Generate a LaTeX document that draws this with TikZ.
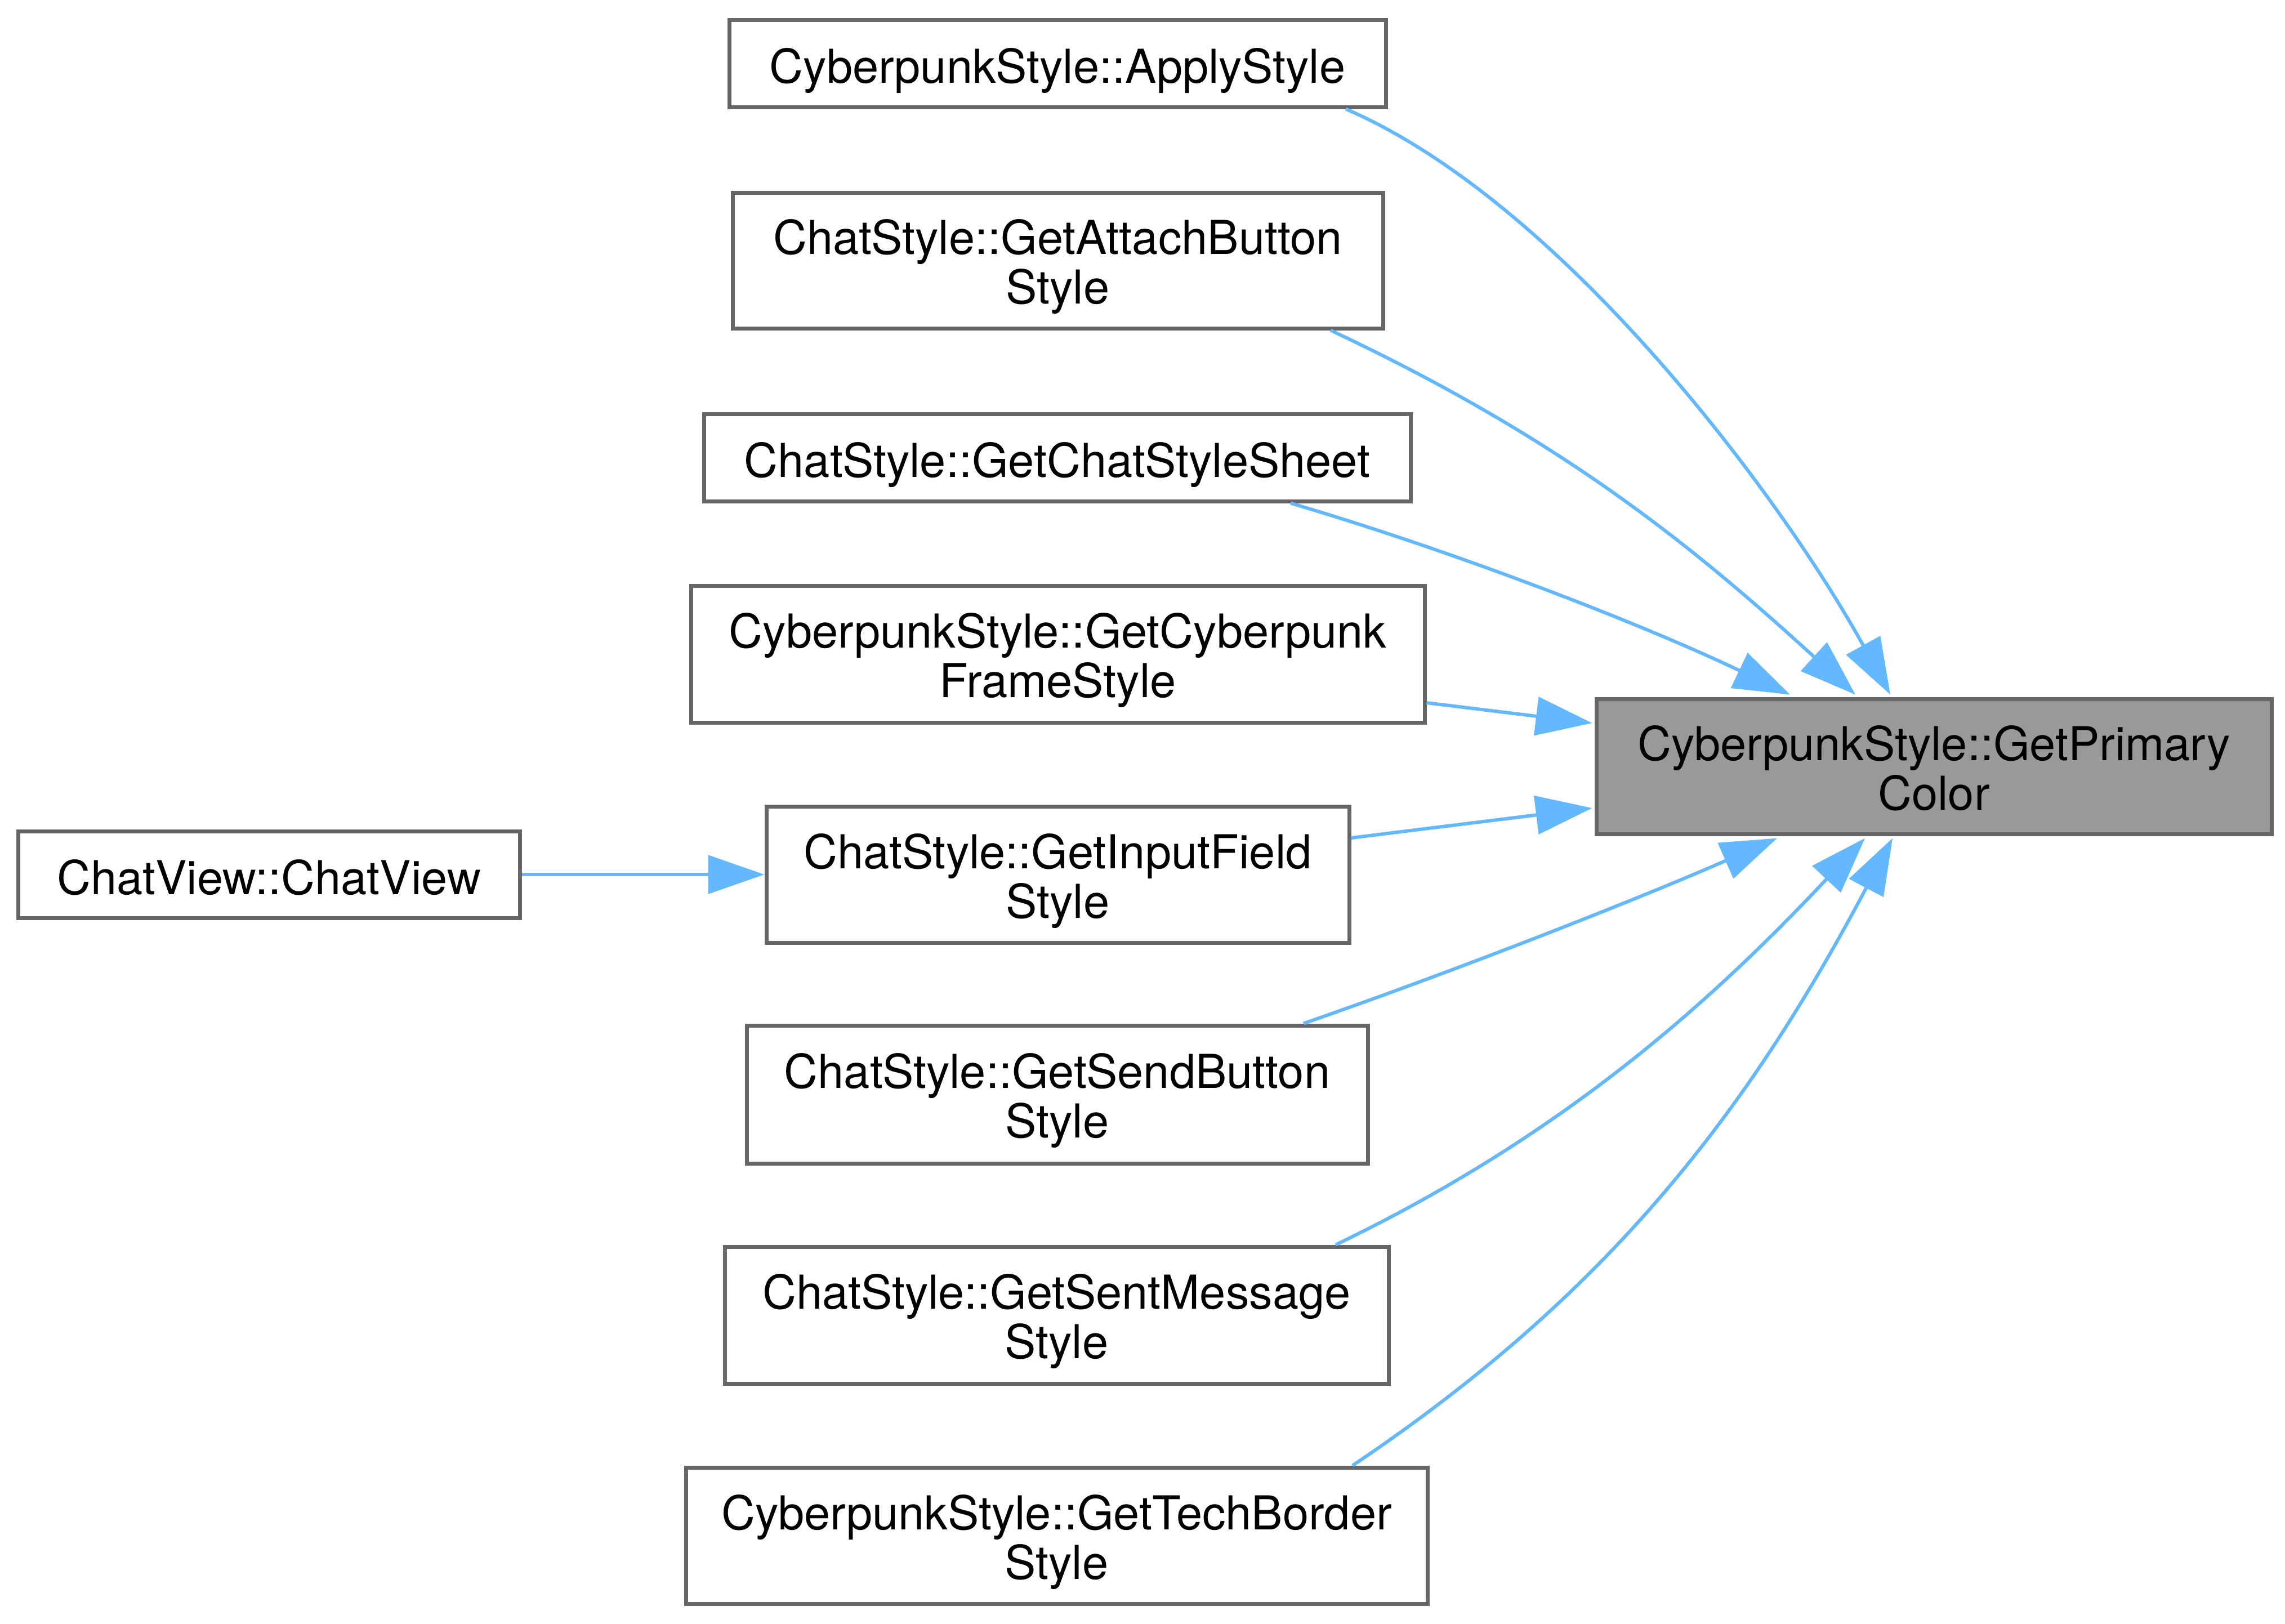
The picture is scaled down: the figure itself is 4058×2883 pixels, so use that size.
\documentclass[tikz,border=0pt]{standalone}
\usepackage{fontspec}
\setmainfont{TeX Gyre Heros}
\usetikzlibrary{arrows.meta,calc}
\definecolor{edgecol}{HTML}{63B8FF}
\definecolor{boxborder}{HTML}{666666}
\definecolor{mainfill}{HTML}{999999}
\newcommand\twoline[2]{\begin{tabular}[b]{@{}c@{}}#1\\#2\end{tabular}}
\tikzset{
  fnbox/.style={draw=boxborder, line width=1.75pt, fill=white, inner sep=0pt,
    rectangle, text height=20pt, text depth=2.5pt,
    font=\fontsize{20.75pt}{21.5pt}\selectfont},
  fnboxtwo/.style={fnbox, text height=41pt, text depth=2.5pt},
  mainbox/.style={fnboxtwo, fill=mainfill},
  wh/.style 2 args={minimum width=#1*0.25pt, minimum height=#2*0.25pt},
  calledge/.style={draw=edgecol, line width=1.5pt, -{Triangle[length=25pt,width=17pt]}}
}
\begin{document}
\begin{tikzpicture}[x=0.25pt,y=-0.25pt]
\useasboundingbox (0,0) rectangle (4058,2883);

\node[mainbox, wh={1199}{240}] (main) at (3434.5,1361)
  {\twoline{CyberpunkStyle::GetPrimary}{Color}};

\node[fnbox, wh={1166}{155}] (apply) at (1878,112.5)
  {CyberpunkStyle::ApplyStyle};
\node[fnboxtwo, wh={1155}{241}] (attach) at (1878.5,462.5)
  {\twoline{ChatStyle::GetAttachButton}{Style}};
\node[fnbox, wh={1255}{155}] (sheet) at (1877.5,812.5)
  {ChatStyle::GetChatStyleSheet};
\node[fnboxtwo, wh={1303}{243}] (frame) at (1878.5,1161.5)
  {\twoline{CyberpunkStyle::GetCyberpunk}{FrameStyle}};
\node[fnboxtwo, wh={1035}{242}] (input) at (1878.5,1553)
  {\twoline{ChatStyle::GetInputField}{Style}};
\node[fnboxtwo, wh={1103}{245}] (send) at (1877.5,1943.5)
  {\twoline{ChatStyle::GetSendButton}{Style}};
\node[fnboxtwo, wh={1179}{243}] (sent) at (1876.5,2335.5)
  {\twoline{ChatStyle::GetSentMessage}{Style}};
\node[fnboxtwo, wh={1317}{242}] (tech) at (1876.5,2727)
  {\twoline{CyberpunkStyle::GetTechBorder}{Style}};

\node[fnbox, wh={891}{154}] (chatview) at (477.5,1553)
  {ChatView::ChatView};

% edges into the main node
\draw[calledge] ($(apply.south)+(512,0)$) .. controls (2776,360) and (3165,885) .. ($(main.north)+(-77.5,-4)$);
\draw[calledge] ($(attach.south)+(484.5,0)$) .. controls (2770,778) and (3001,965) .. ($(main.north)+(-139.5,-4)$);
\draw[calledge] ($(sheet.south)+(414.5,0)$) .. controls (2579,978) and (2909,1105) .. ($(main.north)+(-255.5,-4)$);
\draw[calledge] ($(frame.east)+(0,86.5)$) -- ($(main.west)+(-4,-77)$);
\draw[calledge] ($(input.east)+(0,-65)$) -- ($(main.west)+(-4,74)$);
\draw[calledge] ($(send.north)+(437.5,0)$) .. controls (2579,1726) and (2901,1600) .. ($(main.south)+(-278.5,4)$);
\draw[calledge] ($(sent.north)+(495.5,0)$) .. controls (2777,2016) and (3040,1778) .. ($(main.south)+(-122.5,4)$);
\draw[calledge] ($(tech.north)+(525.5,0)$) .. controls (2859,2296) and (3105,1972) .. ($(main.south)+(-73.5,4)$);

% caller of GetInputFieldStyle
\draw[calledge] (chatview.east) -- (input.west);
\end{tikzpicture}
\end{document}
